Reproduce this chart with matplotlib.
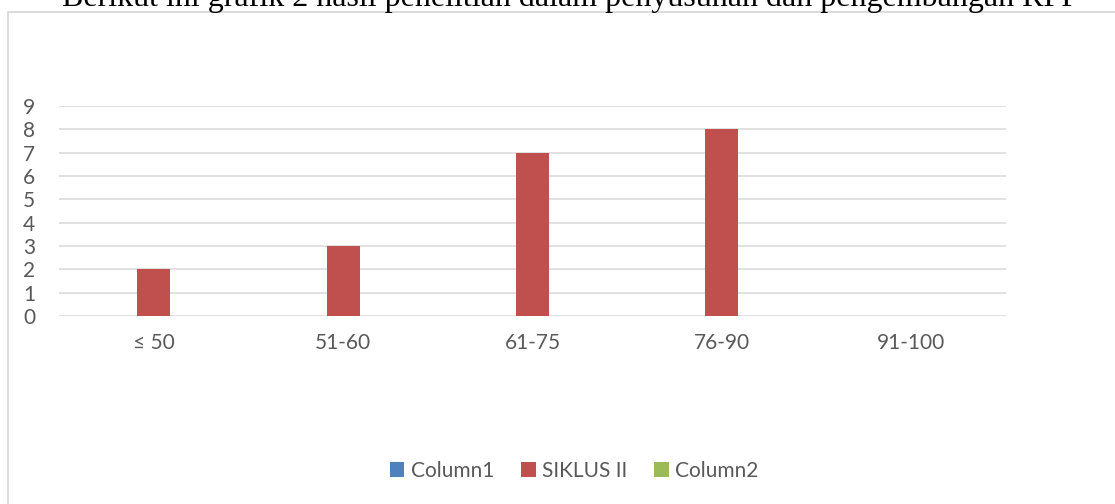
import matplotlib
matplotlib.use("Agg")
import matplotlib.pyplot as plt
from matplotlib.patches import Rectangle, Patch
import numpy as np

categories = ["≤ 50", "51-60", "61-75", "76-90", "91-100"]
column1 = [0, 0, 0, 0, 0]
siklus2 = [2, 3, 7, 8, 0]
column2 = [0, 0, 0, 0, 0]
series_names = ["Column1", "SIKLUS II", "Column2"]
y_ticks = list(range(0, 10))
title_text = "Berikut ini grafik 2 hasil penelitian dalam penyusunan dan pengembangan RPP"

colors = ["#4F81BD", "#C0504D", "#9BBB59"]
W, H = 1115, 504
fig = plt.figure(figsize=(W / 100, H / 100), dpi=100)
fig.patch.set_facecolor("white")

# chart border box (extends beyond the image edge)
fig.patches.append(Rectangle((8 / W, -0.05), 1.2, 1 - 12 / H + 0.05,
                             transform=fig.transFigure, fill=False,
                             edgecolor="#D9D9D9", linewidth=1.3))

fig.text(62 / W, 1 - 6 / H, title_text, family="Liberation Serif",
         fontsize=23, ha="left", va="baseline", color="black")

ax = fig.add_axes([59 / W, 1 - 316 / H, (1006 - 59) / W, (316 - 106) / H])
x = np.arange(len(categories))
bw = 0.174
for i, (vals, name) in enumerate(zip([column1, siklus2, column2], series_names)):
    ax.bar(x + (i - 1) * bw, vals, width=bw, color=colors[i], linewidth=0, zorder=3, label=name)

ax.set_xlim(-0.5, len(categories) - 0.5)
ax.set_ylim(0, 9)
ax.set_yticks(y_ticks)
ax.set_xticks(x)
ax.set_xticklabels(categories)
for s in ax.spines.values():
    s.set_visible(False)
ax.grid(axis="y", color="#D9D9D9", linewidth=1.1, zorder=0)
ax.set_axisbelow(True)
ax.tick_params(axis="both", length=0, labelcolor="#595959", labelsize=15)
ax.tick_params(axis="y", pad=17)
ax.tick_params(axis="x", pad=12)
for t in ax.get_xticklabels() + ax.get_yticklabels():
    t.set_family(["Lato", "DejaVu Sans"])

handles = [Patch(facecolor=c, edgecolor="none") for c in colors]
leg = fig.legend(handles, series_names, loc="center", bbox_to_anchor=(574 / W, 1 - 471 / H),
                 ncol=3, frameon=False, handlelength=0.7, handleheight=0.7,
                 handletextpad=0.3, columnspacing=1.3,
                 prop={"family": "Lato", "size": 15})
for t in leg.get_texts():
    t.set_color("#595959")

fig.savefig("out.png", dpi=100, facecolor="white")
